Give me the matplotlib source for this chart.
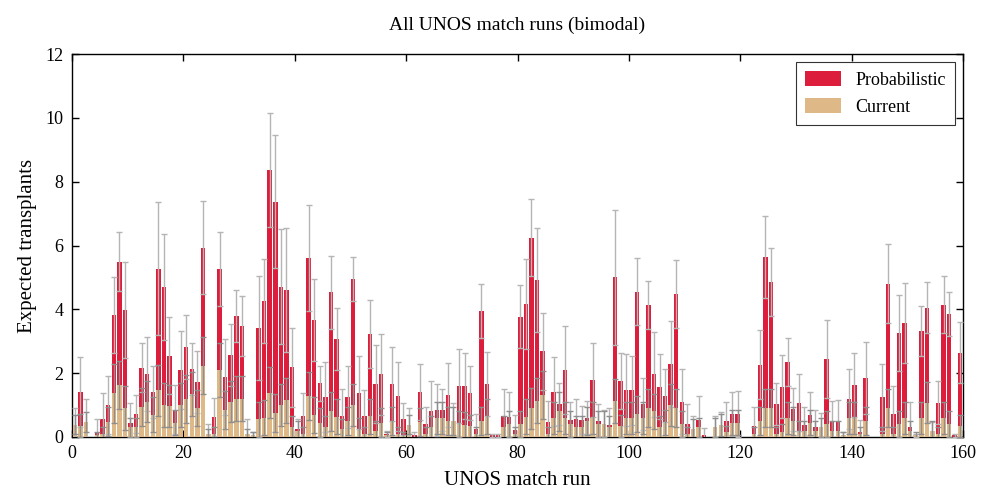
import numpy as np
import matplotlib
matplotlib.use('Agg')
import matplotlib.pyplot as plt

plt.rcParams['font.family'] = ['Liberation Serif', 'DejaVu Serif']

# Expected transplants per UNOS match run (160 runs)
probabilistic = [
    0.30, 1.41, 0.40, 0.00, 0.15, 0.56, 1.00, 3.82, 5.49, 3.98,
    0.45, 0.71, 2.17, 1.97, 1.41, 5.27, 4.70, 2.55, 0.86, 2.10,
    2.83, 2.14, 1.73, 5.93, 0.10, 0.63, 5.27, 1.89, 2.57, 3.80,
    3.48, 0.10, 0.05, 3.43, 4.26, 8.37, 7.37, 4.71, 4.60, 2.18,
    0.25, 0.66, 5.61, 3.67, 1.68, 1.26, 4.53, 3.07, 0.66, 1.26,
    4.95, 1.39, 0.67, 3.23, 1.66, 1.97, 0.10, 1.66, 1.27, 0.56,
    0.30, 0.05, 1.41, 0.41, 0.81, 0.84, 0.84, 1.32, 0.45, 1.60,
    1.60, 1.39, 0.25, 3.95, 1.66, 0.05, 0.05, 0.66, 0.64, 0.22,
    3.77, 4.17, 6.25, 4.92, 2.69, 0.47, 1.42, 1.03, 2.10, 0.53,
    0.56, 0.53, 0.60, 1.79, 0.50, 0.35, 0.37, 5.00, 1.75, 1.47,
    1.47, 4.55, 1.03, 4.14, 1.97, 1.58, 1.29, 2.29, 4.48, 1.10,
    0.40, 0.25, 0.53, 0.05, 0.00, 0.25, 0.30, 0.50, 0.72, 0.72,
    0.00, 0.00, 0.34, 2.26, 5.63, 4.86, 1.03, 1.58, 2.35, 0.87,
    1.08, 0.37, 0.69, 0.30, 0.25, 2.44, 0.50, 0.50, 0.05, 1.19,
    1.63, 0.15, 1.85, 0.00, 0.00, 1.25, 4.80, 0.72, 3.26, 3.58,
    0.30, 0.05, 3.32, 4.05, 0.15, 1.08, 4.14, 3.86, 0.05, 2.64,
]
probabilistic_err = [
    0.60, 1.11, 0.78, 0.00, 0.40, 0.83, 0.92, 1.20, 0.93, 1.49,
    0.60, 0.60, 0.77, 1.17, 0.82, 2.08, 1.65, 1.20, 0.77, 1.22,
    1.00, 0.82, 0.97, 1.46, 0.30, 0.60, 1.15, 1.19, 0.97, 0.81,
    0.95, 0.45, 0.10, 1.63, 1.32, 1.78, 2.09, 1.81, 1.95, 1.23,
    0.30, 0.73, 1.65, 1.28, 0.56, 1.10, 1.15, 0.96, 0.85, 0.97,
    0.69, 1.14, 0.81, 1.06, 1.21, 1.27, 0.10, 1.16, 1.07, 0.50,
    0.60, 0.10, 0.87, 0.52, 0.95, 0.81, 0.66, 1.01, 0.60, 1.16,
    1.04, 0.85, 0.47, 0.84, 1.01, 0.05, 0.05, 0.84, 0.76, 0.47,
    0.99, 1.40, 1.22, 1.63, 1.21, 0.66, 1.08, 0.65, 1.39, 0.58,
    0.62, 0.44, 0.52, 1.15, 0.53, 0.49, 0.53, 2.12, 0.87, 1.13,
    1.08, 1.05, 0.81, 0.76, 1.33, 1.03, 0.83, 1.34, 1.07, 1.02,
    0.63, 0.41, 0.76, 0.22, 0.00, 0.40, 0.47, 0.60, 0.70, 0.72,
    0.00, 0.00, 0.61, 1.08, 1.28, 1.06, 0.65, 0.99, 0.76, 0.68,
    0.90, 0.58, 0.71, 0.55, 0.50, 1.23, 0.62, 0.67, 0.10, 0.93,
    0.99, 0.38, 1.14, 0.00, 0.00, 1.05, 1.24, 0.88, 1.18, 1.26,
    0.79, 0.05, 0.77, 0.80, 0.33, 0.67, 0.89, 0.69, 0.05, 0.95,
]
current = [
    0.38, 0.36, 0.47, 0.00, 0.05, 0.10, 0.48, 1.37, 1.63, 0.91,
    0.30, 0.30, 0.95, 1.11, 0.70, 1.47, 1.00, 0.97, 0.45, 1.00,
    1.20, 1.35, 0.91, 2.24, 0.10, 0.10, 2.10, 0.85, 1.11, 1.20,
    1.20, 0.10, 0.05, 0.55, 0.60, 1.38, 0.75, 1.00, 1.15, 0.30,
    0.20, 0.10, 1.29, 0.69, 0.45, 0.30, 0.80, 0.64, 0.26, 0.50,
    1.00, 0.26, 0.10, 0.65, 0.20, 0.45, 0.05, 0.50, 0.10, 0.05,
    0.38, 0.00, 0.47, 0.10, 0.30, 0.60, 0.60, 0.50, 0.50, 0.40,
    0.37, 0.33, 0.10, 0.50, 0.65, 0.00, 0.00, 0.30, 0.40, 0.10,
    0.40, 0.64, 0.90, 1.14, 1.32, 0.10, 0.60, 0.80, 0.60, 0.40,
    0.30, 0.30, 0.50, 0.60, 0.40, 0.40, 0.30, 1.13, 0.35, 0.60,
    0.60, 0.72, 0.60, 0.90, 0.80, 0.30, 0.45, 1.00, 0.90, 0.40,
    0.10, 0.25, 0.30, 0.00, 0.00, 0.30, 0.38, 0.15, 0.45, 0.45,
    0.00, 0.00, 0.10, 0.50, 0.90, 0.90, 0.10, 0.15, 0.60, 0.50,
    0.20, 0.20, 0.45, 0.20, 0.30, 0.40, 0.20, 0.20, 0.05, 0.60,
    0.60, 0.10, 0.50, 0.00, 0.00, 0.10, 0.90, 0.10, 0.40, 0.60,
    0.20, 0.05, 0.60, 1.08, 0.20, 0.10, 0.60, 0.40, 0.00, 0.35,
]
current_err = [
    0.30, 0.35, 0.30, 0.00, 0.10, 0.20, 0.45, 0.92, 0.75, 0.70,
    0.30, 0.30, 0.60, 0.65, 0.55, 0.80, 0.70, 0.65, 0.40, 0.70,
    0.75, 0.70, 0.55, 0.90, 0.15, 0.20, 0.85, 0.60, 0.65, 0.70,
    0.70, 0.15, 0.10, 0.55, 0.55, 0.80, 0.60, 0.65, 0.70, 0.35,
    0.30, 0.20, 0.75, 0.55, 0.45, 0.35, 0.60, 0.55, 0.30, 0.45,
    0.65, 0.35, 0.20, 0.55, 0.30, 0.45, 0.10, 0.45, 0.20, 0.10,
    0.30, 0.00, 0.45, 0.20, 0.35, 0.50, 0.50, 0.45, 0.45, 0.40,
    0.40, 0.35, 0.20, 0.45, 0.55, 0.00, 0.00, 0.35, 0.40, 0.20,
    0.40, 0.55, 0.65, 0.70, 0.75, 0.20, 0.50, 0.60, 0.50, 0.40,
    0.35, 0.35, 0.45, 0.50, 0.40, 0.40, 0.35, 0.70, 0.35, 0.50,
    0.50, 0.55, 0.50, 0.60, 0.55, 0.35, 0.40, 0.65, 0.60, 0.40,
    0.20, 0.30, 0.30, 0.00, 0.00, 0.30, 0.35, 0.20, 0.40, 0.40,
    0.00, 0.00, 0.20, 0.45, 0.60, 0.60, 0.20, 0.25, 0.50, 0.45,
    0.30, 0.30, 0.40, 0.30, 0.30, 0.40, 0.30, 0.30, 0.10, 0.50,
    0.50, 0.20, 0.45, 0.00, 0.00, 0.20, 0.60, 0.20, 0.40, 0.50,
    0.30, 0.10, 0.50, 0.65, 0.30, 0.20, 0.50, 0.40, 0.00, 0.35,
]

RED = '#dc1e3c'
TAN = '#deb887'

runs = np.arange(len(probabilistic)) + 0.5


def masked(vals, errs):
    # no error bar drawn for empty runs
    v = np.array(vals, dtype=float)
    e = np.array(errs, dtype=float)
    v[e == 0] = np.nan
    return v, e


fig = plt.figure(figsize=(9.81, 4.91), dpi=100)
ax = fig.add_axes([0.0734, 0.11, 0.9083, 0.78])

ax.bar(runs, probabilistic, 0.8, color=RED, edgecolor='none', label='Probabilistic', zorder=2)
ax.bar(runs, current, 0.8, color=TAN, edgecolor='none', label='Current', zorder=3)

pv, pe = masked(probabilistic, probabilistic_err)
cv, ce = masked(current, current_err)
ax.errorbar(runs, pv, yerr=pe, fmt='none', ecolor='#b5b5b5',
            elinewidth=1.0, capsize=2.5, capthick=1.0, zorder=4)
ax.errorbar(runs, cv, yerr=ce, fmt='none', ecolor='#8e8e8e',
            elinewidth=1.0, capsize=2.5, capthick=1.0, zorder=5)

ax.set_xlim(0, 160)
ax.set_ylim(0, 12)
ax.set_xticks(np.arange(0, 161, 20))
ax.set_yticks(np.arange(0, 13, 2))
ax.tick_params(direction='in', top=True, right=True, labelsize=13, length=5, width=1, pad=6)
for s in ax.spines.values():
    s.set_linewidth(1.0)

ax.set_xlabel('UNOS match run', fontsize=15, labelpad=6)
ax.set_ylabel('Expected transplants', fontsize=15, labelpad=6)
ax.set_title('All UNOS match runs (bimodal)', fontsize=14, pad=17)

leg = ax.legend(loc='upper right', fontsize=13, frameon=True, fancybox=False,
                edgecolor='black', handlelength=2.0, handleheight=0.9,
                borderpad=0.5, labelspacing=0.5, borderaxespad=0,
                bbox_to_anchor=(0.991, 0.979))
leg.get_frame().set_linewidth(0.8)

fig.savefig('out.png', dpi=100)
